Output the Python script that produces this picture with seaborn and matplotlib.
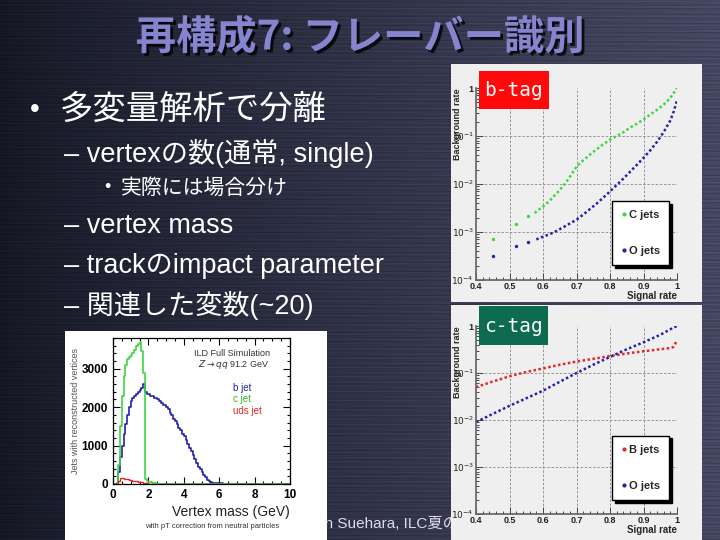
import numpy as np
import pandas as pd
import matplotlib
matplotlib.use("Agg")
import matplotlib.pyplot as plt
import matplotlib.patheffects as pe
from matplotlib.lines import Line2D
from matplotlib.patches import Rectangle
from matplotlib.ticker import FixedLocator, FixedFormatter, LogLocator, NullFormatter, MultipleLocator
import seaborn as sns

# ---- slide text ----
title = "再構成7: フレーバー識別"
bullet_main = "多変量解析で分離"
sub_items = ["– vertexの数(通常, single)", "– vertex mass",
             "– trackのimpact parameter", "– 関連した変数(~20)"]
sub_sub = "実際には場合分け"
footer = "Taikan Suehara, ILC夏の合宿"

# ---- vertex mass histogram (0.1 GeV bins, 0-10 GeV) ----
mass_edges = np.linspace(0, 10, 101)
b_jet = [0, 0, 20, 300, 700, 1000, 1300, 1550, 1800, 2000,
         2150, 2250, 2300, 2350, 2400, 2450, 2500, 2600, 2400, 2350,
         2350, 2300, 2300, 2250, 2250, 2200, 2150, 2100, 2050, 2050,
         2000, 1950, 1850, 1800, 1700, 1650, 1550, 1450, 1400, 1300,
         1250, 1150, 1050, 950, 850, 750, 650, 550, 450, 380,
         300, 230, 170, 110, 70, 45, 30, 25, 20, 20,
         15, 15, 10, 10, 8, 6, 5, 4, 3, 2] + [0] * 30
c_jet = [0, 0, 0, 500, 1500, 2300, 2800, 3100, 3250, 3300,
         3350, 3400, 3500, 3600, 3650, 3700, 3450, 2900, 120, 70,
         50, 40, 30, 20, 15, 10, 8, 5, 4, 3] + [0] * 70
uds_jet = [0, 0, 0, 80, 150, 160, 140, 130, 120, 110,
           100, 90, 80, 70, 60, 55, 45, 35, 25, 15,
           10, 8, 5, 4, 3] + [0] * 75
mass_centers = (mass_edges[:-1] + mass_edges[1:]) / 2

# ---- b-tag efficiency curves ----
btag_c_sparse_x = [0.45, 0.52, 0.555]
btag_c_sparse_y = [7e-4, 1.5e-3, 2.2e-3]
btag_c_x = [0.575, 0.59, 0.605, 0.62, 0.635, 0.65, 0.665, 0.68, 0.70, 0.72, 0.74, 0.76,
            0.78, 0.80, 0.82, 0.84, 0.86, 0.88, 0.90, 0.92, 0.94, 0.96, 0.98, 1.0]
btag_c_y = [2.5e-3, 3.0e-3, 3.6e-3, 4.5e-3, 5.8e-3, 7.5e-3, 1.0e-2, 1.4e-2, 2.3e-2, 3.1e-2,
            4.1e-2, 5.3e-2, 6.7e-2, 8.4e-2, 0.10, 0.12, 0.15, 0.18, 0.22, 0.28, 0.35, 0.45,
            0.62, 1.0]
btag_o_sparse_x = [0.45, 0.52, 0.555]
btag_o_sparse_y = [3.2e-4, 5.2e-4, 6.2e-4]
btag_o_x = [0.58, 0.60, 0.62, 0.64, 0.66, 0.68, 0.70, 0.72, 0.74, 0.76, 0.78, 0.80, 0.82,
            0.84, 0.86, 0.88, 0.90, 0.92, 0.94, 0.96, 0.98, 0.99, 1.0]
btag_o_y = [7e-4, 8e-4, 9e-4, 1.05e-3, 1.25e-3, 1.5e-3, 1.8e-3, 2.3e-3, 3.0e-3, 3.9e-3,
            5.2e-3, 7.0e-3, 9.5e-3, 1.3e-2, 1.8e-2, 2.5e-2, 3.5e-2, 5.0e-2, 7.5e-2, 0.12,
            0.21, 0.32, 0.55]

# ---- c-tag efficiency curves ----
ctag_b_x = [0.40, 0.45, 0.50, 0.55, 0.60, 0.65, 0.70, 0.75, 0.80, 0.85, 0.90, 0.95,
            0.98, 0.99, 1.0]
ctag_b_y = [5.0e-2, 6.6e-2, 8.5e-2, 0.105, 0.125, 0.15, 0.175, 0.20, 0.23, 0.26, 0.29,
            0.32, 0.34, 0.36, 0.50]
ctag_o_x = [0.40, 0.45, 0.50, 0.55, 0.60, 0.65, 0.70, 0.75, 0.80, 0.85, 0.90, 0.95,
            0.98, 1.0]
ctag_o_y = [9e-3, 1.35e-2, 2.0e-2, 2.9e-2, 4.2e-2, 6.5e-2, 0.10, 0.15, 0.22, 0.32, 0.45,
            0.65, 0.85, 1.0]

GREEN = "#3fd63f"
BLUE = "#2323a8"
RED = "#e02828"

W, H = 720, 540


def rect(x0, y0, x1, y1):
    return [x0 / W, 1 - y1 / H, (x1 - x0) / W, (y1 - y0) / H]


def pt(x, y):
    return x / W, 1 - y / H


sns.set_theme(style="ticks")
BODY = ["Liberation Sans", "Noto Sans CJK JP", "DejaVu Sans"]
plt.rcParams["font.family"] = BODY

fig = plt.figure(figsize=(7.2, 5.4), dpi=100)

# background gradient with faint streaks
bg = fig.add_axes([0, 0, 1, 1])
bg.set_zorder(-2)
cols = np.linspace(0, 1, W)
rows = np.arange(H)
left = np.array([0.08, 0.09, 0.14])
right = np.array([0.27, 0.28, 0.38])
grad = left[None, None, :] + (right - left)[None, None, :] * cols[None, :, None] ** 0.8
streak = 1 + 0.14 * np.sin(rows * 1.7)[:, None] * np.sin(cols * 9 + rows[:, None] * 0.37)
img = np.clip(grad * streak[:, :, None], 0, 1)
bg.imshow(img, extent=[0, 1, 0, 1], aspect="auto")
bg.axis("off")

# slide text
fig.text(*pt(360, 38), title, ha="center", va="center", fontsize=29, fontweight="bold",
         color="#8585cf", family=["Noto Sans CJK JP"],
         path_effects=[pe.withSimplePatchShadow(offset=(2, -2), shadow_rgbFace="black", alpha=0.8)])
fig.text(*pt(30, 110), "•", ha="left", va="center", fontsize=20, color="white")
fig.text(*pt(60, 110), bullet_main, ha="left", va="center", fontsize=24, color="white")
sub_y = [153, 226, 266, 306]
for txt, y in zip(sub_items, sub_y):
    fig.text(*pt(64, y), txt, ha="left", va="center", fontsize=19.5, color="white")
fig.text(*pt(104, 188), "•", ha="left", va="center", fontsize=13, color="white")
fig.text(*pt(121, 188), sub_sub, ha="left", va="center", fontsize=15, color="white")
fig.text(*pt(289, 523), footer, ha="left", va="center", fontsize=11, color="#dcdcea", zorder=0.5)

# ---- histogram panel ----
hp = fig.add_axes(rect(65, 331, 327, 540))
hp.set_zorder(1)
hp.set_facecolor("white")
hp.set_xticks([])
hp.set_yticks([])
for s in hp.spines.values():
    s.set_visible(False)

hist = pd.DataFrame({"mass": mass_centers, "b": b_jet, "c": c_jet, "uds": uds_jet})

ax = fig.add_axes(rect(113, 338, 290, 484))
ax.set_zorder(2)
ax.set_facecolor("white")
for col, color, lw in [("b", BLUE, 1.2), ("c", GREEN, 1.2), ("uds", RED, 1.0)]:
    sns.histplot(data=hist, x="mass", weights=col, binwidth=0.1, binrange=(0, 10),
                 element="step", fill=False, color=color, linewidth=lw, ax=ax)
ax.set_xlim(0, 10)
ax.set_ylim(0, 3800)
ax.xaxis.set_major_locator(MultipleLocator(2))
ax.xaxis.set_minor_locator(MultipleLocator(0.5))
ax.yaxis.set_major_locator(FixedLocator([0, 1000, 2000, 3000]))
ax.yaxis.set_minor_locator(MultipleLocator(200))
ax.tick_params(which="both", direction="in", top=True, right=True, colors="black",
               labelsize=8.5, width=0.8)
ax.tick_params(which="major", length=5)
ax.tick_params(which="minor", length=2.5)
for lab in ax.get_xticklabels() + ax.get_yticklabels():
    lab.set_fontweight("bold")
for s in ax.spines.values():
    s.set_color("black")
    s.set_linewidth(0.9)
ax.set_xlabel("Vertex mass (GeV)", loc="right", fontsize=10, color="#222222", labelpad=3)
ax.set_ylabel("Jets with reconstructed vertices", fontsize=6.5, color="#555555")
ax.yaxis.set_label_coords(-0.185, 0.5)
ax.text(0.67, 0.88, "ILD Full Simulation", transform=ax.transAxes, ha="center",
        fontsize=6.5, color="#333333")
ax.text(0.68, 0.80, r"$Z \rightarrow qq$ 91.2 GeV", transform=ax.transAxes, ha="center",
        fontsize=6.5, color="#333333")
ax.text(0.68, 0.64, "b jet", transform=ax.transAxes, fontsize=7, color=BLUE)
ax.text(0.68, 0.56, "c jet", transform=ax.transAxes, fontsize=7, color="#2fb82f")
ax.text(0.68, 0.48, "uds jet", transform=ax.transAxes, fontsize=7, color=RED)
fig.text(*pt(212, 527), "with pT correction from neutral particles", ha="center", va="center",
         fontsize=5.5, color="#333333", zorder=5)


# ---- efficiency panels ----
def style_roc(ax):
    ax.set_yscale("log")
    ax.set_xlim(0.4, 1.0)
    ax.set_ylim(1e-4, 1)
    ax.xaxis.set_major_locator(FixedLocator([0.4, 0.5, 0.6, 0.7, 0.8, 0.9, 1.0]))
    ax.xaxis.set_major_formatter(FixedFormatter(["0.4", "0.5", "0.6", "0.7", "0.8", "0.9", "1"]))
    ax.xaxis.set_minor_locator(MultipleLocator(0.02))
    ax.yaxis.set_major_locator(FixedLocator([1e-4, 1e-3, 1e-2, 1e-1, 1]))
    ax.yaxis.set_major_formatter(FixedFormatter([r"$10^{-4}$", r"$10^{-3}$", r"$10^{-2}$",
                                                 r"$10^{-1}$", "1"]))
    ax.yaxis.set_minor_locator(LogLocator(base=10, subs=np.arange(2, 10), numticks=10))
    ax.yaxis.set_minor_formatter(NullFormatter())
    ax.tick_params(which="both", direction="in", colors="#444444", labelsize=6.5,
                   labelcolor="#222222", width=0.7, pad=1.5)
    ax.tick_params(which="major", length=5)
    ax.tick_params(which="minor", length=2.5)
    for lab in ax.get_xticklabels() + ax.get_yticklabels():
        lab.set_fontweight("bold")
    for g in [0.5, 0.6, 0.7, 0.8, 0.9]:
        ax.axvline(g, color="#888888", lw=0.6, ls=(0, (3, 2)), zorder=0)
    for g in [1e-3, 1e-2, 1e-1]:
        ax.axhline(g, color="#888888", lw=0.6, ls=(0, (3, 2)), zorder=0)
    ax.spines["top"].set_visible(False)
    ax.spines["right"].set_visible(False)
    ax.spines["left"].set_color("#666666")
    ax.spines["bottom"].set_color("#666666")
    ax.set_xlabel("Signal rate", loc="right", fontsize=7, fontweight="bold", labelpad=0)
    ax.set_ylabel("Background rate", loc="top", fontsize=6.5, fontweight="bold")
    ax.yaxis.set_label_coords(-0.07, 1.0)


def roc_legend(ax, colors, labels):
    handles = [Line2D([], [], ls="", marker="o", markersize=2, color=c) for c in colors]
    ax.legend(handles, labels, loc="center", bbox_to_anchor=(0.82, 0.245), frameon=True,
              fancybox=False, shadow={"color": "black", "alpha": 1.0}, edgecolor="black",
              facecolor="white", framealpha=1, prop={"size": 8, "weight": "bold"},
              labelspacing=2.3, handletextpad=0.2, borderpad=0.85, handlelength=0.4,
              borderaxespad=0)


PANEL = "#efefef"
for box in [rect(451, 64, 702, 302), rect(451, 305, 702, 540)]:
    p = fig.add_axes(box)
    p.set_zorder(1)
    p.set_facecolor(PANEL)
    p.set_xticks([])
    p.set_yticks([])
    for s in p.spines.values():
        s.set_visible(False)

ax_b = fig.add_axes(rect(476, 88, 677, 280))
ax_b.set_zorder(2)
ax_b.set_facecolor(PANEL)
sns.scatterplot(x=btag_c_sparse_x, y=btag_c_sparse_y, color=GREEN, s=6, linewidth=0, ax=ax_b)
sns.scatterplot(x=btag_o_sparse_x, y=btag_o_sparse_y, color=BLUE, s=6, linewidth=0, ax=ax_b)
sns.lineplot(x=btag_c_x, y=btag_c_y, color=GREEN, lw=1.8, ls=(0, (1, 1)), ax=ax_b)
sns.lineplot(x=btag_o_x, y=btag_o_y, color=BLUE, lw=1.8, ls=(0, (1, 1)), ax=ax_b)
style_roc(ax_b)
roc_legend(ax_b, [GREEN, BLUE], ["C jets", "O jets"])

ax_c = fig.add_axes(rect(476, 326, 677, 514))
ax_c.set_zorder(2)
ax_c.set_facecolor(PANEL)
sns.lineplot(x=ctag_b_x, y=ctag_b_y, color=RED, lw=1.8, ls=(0, (1, 1)), ax=ax_c)
sns.lineplot(x=ctag_o_x, y=ctag_o_y, color=BLUE, lw=1.8, ls=(0, (1, 1)), ax=ax_c)
style_roc(ax_c)
roc_legend(ax_c, [RED, BLUE], ["B jets", "O jets"])

# tag labels
for (x0, y0, x1, y1), txt, col in [((479, 71, 549, 109), "b-tag", "#ff0a0a"),
                                   ((479, 306, 548, 345), "c-tag", "#0d6b50")]:
    fig.patches.append(Rectangle((x0 / W, 1 - y1 / H), (x1 - x0) / W, (y1 - y0) / H,
                                 transform=fig.transFigure, facecolor=col, edgecolor="none",
                                 zorder=6))
    fig.text(*pt((x0 + x1) / 2, (y0 + y1) / 2 + 1), txt, ha="center", va="center",
             fontsize=14, color="white", family=["DejaVu Sans Mono"], zorder=7)

fig.savefig("out.png", dpi=100)
